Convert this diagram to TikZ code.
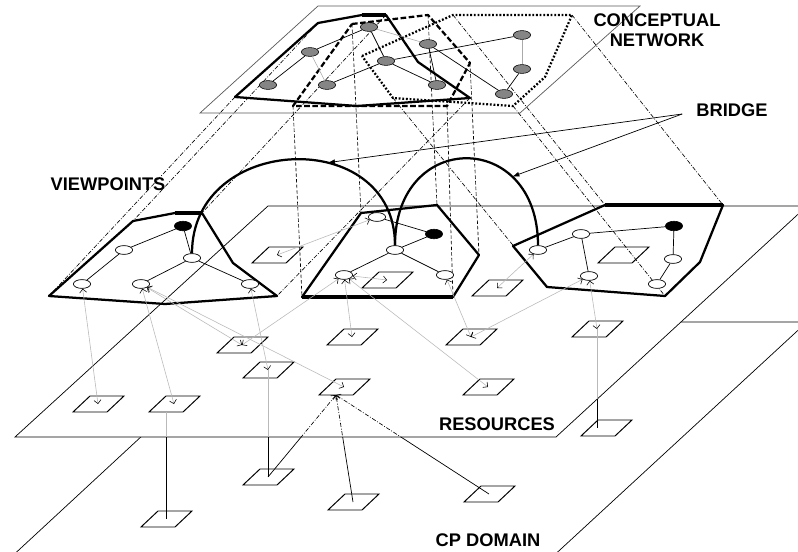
\documentclass[tikz,border=0pt]{standalone}
\usepackage{fontspec}
\setmainfont{Liberation Sans}
\usetikzlibrary{shapes.geometric, arrows.meta, calc}
\definecolor{gris}{HTML}{858585}
\definecolor{enlace}{HTML}{B9B9B9}
\tikzset{
  plano/.style={draw=black, line width=0.5pt, fill=white},
  vista/.style={line width=1.6pt, line join=round},
  borde/.style={line width=2.6pt},
  cnodo/.style={ellipse, draw, fill=gris, line width=0.4pt, minimum width=0.43cm, minimum height=0.22cm, inner sep=0pt},
  vnodo/.style={ellipse, draw, fill=white, line width=0.5pt, minimum width=0.43cm, minimum height=0.22cm, inner sep=0pt},
  knodo/.style={ellipse, draw, fill=black, minimum width=0.43cm, minimum height=0.24cm, inner sep=0pt},
  arista/.style={line width=0.5pt},
  aristag/.style={line width=0.4pt, draw=gris!70},
  enlaceg/.style={line width=0.4pt, draw=enlace,
    {Straight Barb[color=black,length=2.5pt,width=5pt]}-{Straight Barb[color=black,length=2.5pt,width=5pt]}},
  proy/.style={line width=0.45pt, dash pattern=on 3pt off 1.2pt on 0.6pt off 1.2pt},
  proyd/.style={line width=0.45pt, dash pattern=on 2.5pt off 1.5pt},
  puente/.style={line width=1.6pt},
  flecha/.style={line width=0.5pt, -{Latex[length=5pt,width=3.5pt]}},
  caja/.style={line width=0.7pt},
  etiqueta/.style={font=\bfseries\fontsize{13}{14.5}\selectfont, align=center, inner sep=0pt}
}
\newcommand{\recurso}[3]{%
  \coordinate (#1) at (#2,#3);
  \coordinate (#1-s) at ($(#1)+(-8,8)$);
  \draw[caja] (#1) ++(-25,8) -- ++(17,-16) -- ++(34,0) -- ++(-17,16) -- cycle;}

\begin{document}
\begin{tikzpicture}[x=0.025cm, y=-0.025cm]
  \useasboundingbox (0,0) rectangle (798,552);
  \clip (0,0) rectangle (798,552);

  % planos
  \draw[plano] (265,322) -- (807,322) -- (549,560) -- (8,560) -- cycle;
  \draw[plano] (268,206) -- (807,206) -- (556,437) -- (15,437) -- cycle;
  \draw[plano, draw=black!65] (200,113) -- (520,113) -- (640,6) -- (318,6) -- cycle;

  % recursos
  \foreach \n/\x/\y in {r1/98/404, r2/174/404, r3/242/345, r4/268/370, r5/344/387,
                        r6/352/337, r7/471/337, r8/597/329, r9/488/387, r10/387/280,
                        r11/497/288, r12/277/255, r13/623/255,
                        cp1/166/519, cp2/268/477, cp3/353/502, cp4/489/494, cp5/606/428}
    \recurso{\n}{\x}{\y};

  % enlaces hacia el dominio CP
  \begin{scope}
    \clip (0,206) -- (807,206) -- (556,437) -- (0,437) -- cycle;
    \draw[line width=0.4pt, enlace] (r2-s) -- (cp1);
    \draw[line width=0.4pt, enlace] (r4) -- (cp2);
    \draw[line width=0.4pt, enlace] (r8) -- (r8 |- cp5);
    \foreach \d in {cp2,cp3,cp4}
      \draw[proy, -{Straight Barb[length=2.5pt,width=5pt]}] (\d) -- (r5-s);
  \end{scope}
  \begin{scope}
    \clip (0,437) -- (556,437) -- (807,206) -- (807,552) -- (0,552) -- cycle;
    \draw[arista] (r2-s) -- (cp1);
    \draw[arista] (r4) -- (cp2);
    \draw[arista] (r8) -- (r8 |- cp5);
    \foreach \d in {cp2,cp3,cp4}
      \draw[arista] (\d) -- (r5-s);
  \end{scope}

  % vertices de las vistas
  \foreach \n/\x/\y in {a1/235/97, a2/318/23, a3/362/15, a4/386/15, a5/418/62, a6/470/98, a7/357/106,
                        b1/49/296, b2/133/221, b3/175/213, b4/202/213, b5/233/263, b6/277/296, b7/165/304,
                        c1/352/24, c2/428/15, c3/470/63, c4/447/106, c5/293/106,
                        d1/361/213, d2/437/205, d3/479/255, d4/453/297, d5/302/297,
                        e1/362/56, e2/453/15, e3/572/15, e4/545/77, e5/513/106, e6/393/98,
                        f1/513/246, f2/605/205, f3/723/205, f4/700/262, f5/665/296, f6/547/287}
    \coordinate (\n) at (\x,\y);

  % proyecciones
  \foreach \i in {1,2,4,6} \draw[proy] (a\i) -- (b\i);
  \foreach \i in {1,...,5} \draw[proyd] (c\i) -- (d\i);
  \foreach \i in {2,3,5,6} \draw[proy] (e\i) -- (f\i);

  % poligonos
  \draw[vista] (a1) -- (a2) -- (a3) -- (a4) -- (a5) -- (a6) -- (a7) -- cycle;
  \draw[vista, dash pattern=on 4pt off 1.8pt] (c1) -- (c2) -- (c3) -- (c4) -- (c5) -- cycle;
  \draw[vista, dash pattern=on 1.3pt off 1.3pt] (e1) -- (e2) -- (e3) -- (e4) -- (e5) -- (e6) -- cycle;
  \draw[vista] (b1) -- (b2) -- (b3) -- (b4) -- (b5) -- (b6) -- (b7) -- cycle;
  \draw[vista] (d1) -- (d2) -- (d3) -- (d4) -- (d5) -- cycle;
  \draw[vista] (f1) -- (f2) -- (f3) -- (f4) -- (f5) -- (f6) -- cycle;
  \draw[borde] (a3) -- (a4);
  \draw[borde] (b3) -- (b4);
  \draw[borde] (d4) -- (d5);
  \draw[borde] (f2) -- (f3);

  % red conceptual
  \foreach \n/\x/\y in {n1/369/27, n2/310/52, n3/428/44, n4/386/61, n5/522/35,
                        n6/522/69, n7/268/85, n8/327/85, n9/437/85, n10/504/94}
    \node[cnodo] (\n) at (\x,\y) {};
  \foreach \u/\v in {n7/n2, n2/n1, n1/n4, n8/n4, n4/n9, n3/n9, n3/n10, n4/n5, n6/n10}
    \draw[arista] (\u) -- (\v);
  \foreach \u/\v in {n2/n8, n1/n3, n5/n6}
    \draw[aristag] (\u) -- (\v);

  % nodos de las vistas
  \foreach \n/\x/\y in {vp1b/124/250, vp1c/192/258, vp1e/82/284, vp1f/141/284, vp1g/250/284,
                        vp2a/377/217, vp2c/395/250, vp2d/344/275, vp2e/445/275,
                        vp3a/538/250, vp3b/581/234, vp3d/673/259, vp3e/589/276, vp3f/657/284}
    \node[vnodo] (\n) at (\x,\y) {};
  \node[knodo] (vp1k) at (183,226) {};
  \node[knodo] (vp2k) at (434,234) {};
  \node[knodo] (vp3k) at (674,226) {};
  \foreach \u/\v in {vp1k/vp1b, vp1k/vp1c, vp1b/vp1e, vp1c/vp1f, vp1c/vp1g,
                     vp2a/vp2k, vp2k/vp2c, vp2c/vp2d, vp2c/vp2e,
                     vp3a/vp3b, vp3b/vp3k, vp3b/vp3e, vp3k/vp3d, vp3d/vp3f}
    \draw[arista] (\u) -- (\v);

  % enlaces vista - recurso
  \foreach \u/\v in {vp1e/r1, vp1f/r2, vp1f/r3, vp1f/r5, vp1g/r4,
                     vp2a/r12, vp2d/r10, vp2d/r6, vp2d/r3, vp2d/r9, vp2e/r7,
                     vp3a/r11, vp3e/r8, vp3e/r7}
    \draw[enlaceg] (\u) -- (\v);

  % puentes
  \draw[puente] (vp1c.north) .. controls +(0,-120) and +(0,-120) .. (vp2c.north) coordinate[pos=0.615] (p1);
  \draw[puente] (vp2c.north) .. controls +(0,-116) and +(0,-116) .. (vp3a.north) coordinate[pos=0.73] (p2);

  % etiquetas
  \node[etiqueta] (concept) at (657,30) {CONCEPTUAL\\NETWORK};
  \node[etiqueta] (bridge) at (732,110) {BRIDGE};
  \node[etiqueta] (views) at (108,184) {VIEWPOINTS};
  \node[etiqueta] (resources) at (497,424) {RESOURCES};
  \node[etiqueta] (cpdomain) at (488,540) {CP DOMAIN};
  \coordinate (bb) at ($(bridge.west)+(-14,4)$);
  \draw[flecha] (bb) -- (p1);
  \draw[flecha] (bb) -- (p2);
\end{tikzpicture}
\end{document}
